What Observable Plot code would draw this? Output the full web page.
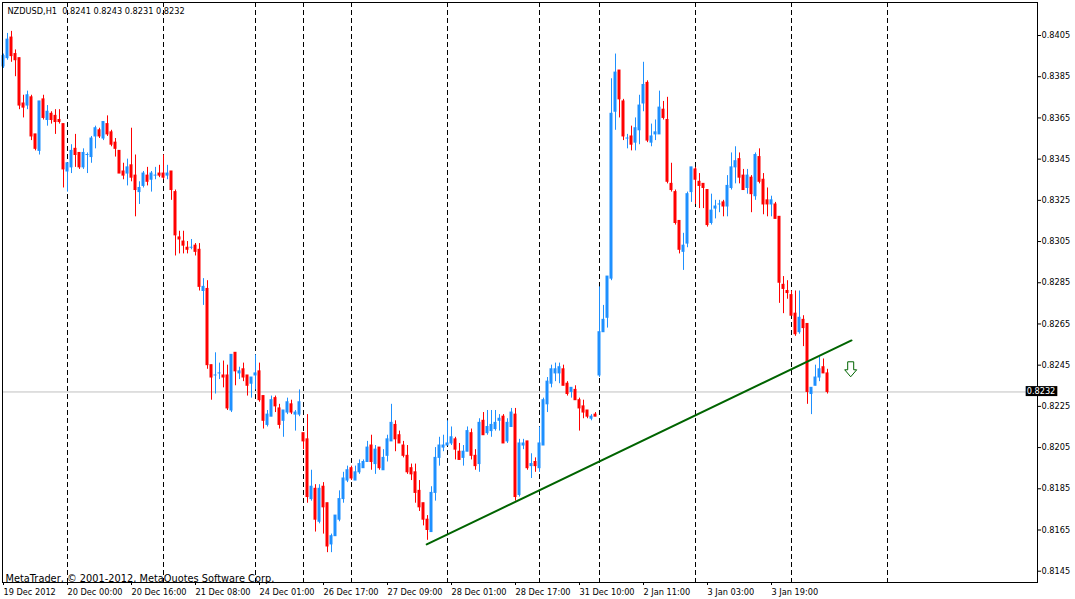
<!DOCTYPE html>
<html>
<head>
<meta charset="utf-8">
<script src="https://cdn.jsdelivr.net/npm/d3@7"></script>
<script src="https://cdn.jsdelivr.net/npm/@observablehq/plot@0.6"></script>
<style>
  html, body { margin: 0; padding: 0; background: #fff; }
  svg { display: block; }
  svg text { white-space: pre; }
</style>
</head>
<body>
<div id="chart"></div>
<script>
// ---- Data (NZDUSD H1) ----
const symbol = "NZDUSD";
const period = "H1";

const open = [
0.8390,0.8394,0.8404,0.8396,0.8394,0.8372,0.8371,0.8375,0.8357,0.8349,
0.8374,0.8364,0.8367,0.8366,0.8364,0.8362,0.8339,0.8341,0.8350,0.8348,
0.8341,0.8347,0.8346,0.8356,0.8359,0.8355,0.8362,0.8358,0.8353,0.8349,
0.8339,0.8338,0.8342,0.8337,0.8329,0.8332,0.8337,0.8335,0.8337,0.8338,
0.8338,0.8337,0.8339,0.8329,0.8307,0.8305,0.8302,0.8302,0.8303,0.8301,
0.8281,0.8282,0.8245,0.8240,0.8241,0.8240,0.8240,0.8223,0.8251,0.8241,
0.8243,0.8240,0.8236,0.8240,0.8242,0.8230,0.8216,0.8220,0.8229,0.8224,
0.8218,0.8222,0.8226,0.8221,0.8221,0.8212,0.8209,0.8180,0.8185,0.8169,
0.8186,0.8178,0.8158,0.8162,0.8170,0.8180,0.8189,0.8195,0.8189,0.8193,
0.8195,0.8198,0.8206,0.8197,0.8205,0.8194,0.8201,0.8208,0.8216,0.8211,
0.8206,0.8201,0.8195,0.8193,0.8184,0.8178,0.8170,0.8164,0.8183,0.8200,
0.8205,0.8206,0.8207,0.8209,0.8203,0.8200,0.8203,0.8212,0.8201,0.8197,
0.8218,0.8212,0.8213,0.8214,0.8218,0.8220,0.8208,0.8215,0.8221,0.8182,
0.8206,0.8208,0.8196,0.8198,0.8195,0.8206,0.8226,0.8236,0.8241,0.8241,
0.8243,0.8236,0.8232,0.8233,0.8228,0.8225,0.8223,0.8219,0.8221,0.8240,
0.8261,0.8268,0.8287,0.8368,0.8388,0.8373,0.8355,0.8356,0.8353,0.8359,
0.8372,0.8382,0.8353,0.8357,0.8357,0.8369,0.8364,0.8333,0.8329,0.8315,
0.8300,0.8304,0.8329,0.8340,0.8334,0.8333,0.8330,0.8314,0.8321,0.8323,
0.8324,0.8322,0.8331,0.8341,0.8345,0.8337,0.8331,0.8336,0.8327,0.8346,
0.8335,0.8325,0.8323,0.8323,0.8317,0.8284,0.8281,0.8279,0.8270,0.8261,
0.8267,0.8265,0.8231,0.8235,0.8239,0.8244,0.8241
];
const high = [
0.8396,0.8406,0.8407,0.8398,0.8394,0.8376,0.8378,0.8376,0.8357,0.8373,
0.8376,0.8371,0.8368,0.8369,0.8369,0.8362,0.8343,0.8352,0.8357,0.8348,
0.8350,0.8348,0.8356,0.8361,0.8360,0.8363,0.8366,0.8359,0.8355,0.8349,
0.8343,0.8345,0.8360,0.8347,0.8334,0.8339,0.8341,0.8339,0.8341,0.8342,
0.8347,0.8342,0.8339,0.8330,0.8310,0.8310,0.8305,0.8306,0.8304,0.8304,
0.8287,0.8286,0.8245,0.8251,0.8246,0.8247,0.8245,0.8250,0.8251,0.8244,
0.8246,0.8240,0.8239,0.8250,0.8246,0.8230,0.8223,0.8230,0.8230,0.8226,
0.8223,0.8229,0.8228,0.8223,0.8233,0.8212,0.8221,0.8194,0.8187,0.8187,
0.8188,0.8178,0.8163,0.8172,0.8184,0.8193,0.8196,0.8196,0.8196,0.8199,
0.8199,0.8208,0.8211,0.8206,0.8205,0.8204,0.8211,0.8226,0.8218,0.8213,
0.8208,0.8206,0.8197,0.8197,0.8189,0.8178,0.8172,0.8186,0.8205,0.8210,
0.8211,0.8218,0.8215,0.8210,0.8207,0.8206,0.8215,0.8214,0.8204,0.8219,
0.8222,0.8223,0.8223,0.8223,0.8221,0.8221,0.8219,0.8224,0.8224,0.8209,
0.8209,0.8208,0.8202,0.8200,0.8215,0.8229,0.8239,0.8245,0.8246,0.8246,
0.8245,0.8237,0.8234,0.8235,0.8229,0.8228,0.8223,0.8221,0.8222,0.8283,
0.8274,0.8288,0.8384,0.8396,0.8388,0.8374,0.8357,0.8361,0.8365,0.8376,
0.8392,0.8383,0.8362,0.8364,0.8378,0.8373,0.8375,0.8343,0.8330,0.8315,
0.8309,0.8329,0.8341,0.8341,0.8338,0.8333,0.8330,0.8328,0.8325,0.8325,
0.8325,0.8337,0.8348,0.8351,0.8348,0.8340,0.8340,0.8337,0.8348,0.8350,
0.8338,0.8331,0.8327,0.8324,0.8317,0.8288,0.8286,0.8281,0.8281,0.8281,
0.8269,0.8265,0.8234,0.8245,0.8249,0.8248,0.8243
];
const low = [
0.8389,0.8393,0.8392,0.8385,0.8369,0.8365,0.8369,0.8354,0.8349,0.8347,
0.8364,0.8361,0.8362,0.8357,0.8362,0.8331,0.8329,0.8338,0.8341,0.8340,
0.8340,0.8338,0.8343,0.8350,0.8355,0.8354,0.8356,0.8351,0.8346,0.8338,
0.8335,0.8332,0.8334,0.8317,0.8323,0.8331,0.8332,0.8329,0.8335,0.8336,
0.8335,0.8335,0.8325,0.8298,0.8299,0.8299,0.8299,0.8301,0.8298,0.8281,
0.8274,0.8243,0.8228,0.8231,0.8238,0.8234,0.8223,0.8222,0.8235,0.8238,
0.8237,0.8230,0.8229,0.8233,0.8227,0.8214,0.8215,0.8220,0.8222,0.8214,
0.8210,0.8221,0.8221,0.8213,0.8220,0.8204,0.8178,0.8179,0.8164,0.8168,
0.8163,0.8154,0.8154,0.8162,0.8169,0.8178,0.8188,0.8189,0.8189,0.8192,
0.8195,0.8198,0.8194,0.8192,0.8194,0.8194,0.8198,0.8208,0.8203,0.8207,
0.8200,0.8192,0.8189,0.8178,0.8174,0.8167,0.8160,0.8164,0.8179,0.8196,
0.8203,0.8206,0.8206,0.8199,0.8199,0.8196,0.8203,0.8199,0.8194,0.8193,
0.8211,0.8211,0.8210,0.8213,0.8213,0.8207,0.8207,0.8215,0.8179,0.8181,
0.8204,0.8194,0.8190,0.8193,0.8193,0.8206,0.8222,0.8234,0.8237,0.8236,
0.8235,0.8230,0.8229,0.8228,0.8213,0.8219,0.8219,0.8218,0.8220,0.8239,
0.8261,0.8263,0.8286,0.8359,0.8365,0.8354,0.8350,0.8349,0.8349,0.8352,
0.8368,0.8353,0.8351,0.8354,0.8357,0.8364,0.8333,0.8329,0.8313,0.8299,
0.8291,0.8302,0.8324,0.8323,0.8321,0.8321,0.8312,0.8313,0.8316,0.8319,
0.8317,0.8317,0.8330,0.8333,0.8333,0.8330,0.8328,0.8319,0.8325,0.8333,
0.8318,0.8317,0.8317,0.8316,0.8275,0.8270,0.8277,0.8269,0.8259,0.8260,
0.8254,0.8226,0.8221,0.8235,0.8237,0.8241,0.8231
];
const close = [
0.8395,0.8403,0.8395,0.8393,0.8371,0.8370,0.8376,0.8356,0.8350,0.8373,
0.8365,0.8368,0.8364,0.8363,0.8363,0.8340,0.8343,0.8349,0.8347,0.8341,
0.8348,0.8347,0.8355,0.8360,0.8356,0.8363,0.8357,0.8352,0.8350,0.8338,
0.8337,0.8341,0.8336,0.8330,0.8331,0.8338,0.8334,0.8338,0.8337,0.8337,
0.8336,0.8338,0.8330,0.8308,0.8306,0.8303,0.8301,0.8302,0.8300,0.8283,
0.8283,0.8245,0.8239,0.8240,0.8241,0.8239,0.8224,0.8250,0.8242,0.8242,
0.8239,0.8235,0.8239,0.8241,0.8228,0.8218,0.8221,0.8228,0.8225,0.8216,
0.8223,0.8227,0.8222,0.8222,0.8227,0.8208,0.8181,0.8186,0.8170,0.8185,
0.8176,0.8157,0.8162,0.8172,0.8180,0.8190,0.8194,0.8190,0.8193,0.8197,
0.8198,0.8205,0.8198,0.8204,0.8195,0.8200,0.8209,0.8217,0.8209,0.8207,
0.8201,0.8193,0.8192,0.8183,0.8176,0.8170,0.8165,0.8183,0.8200,0.8206,
0.8206,0.8207,0.8210,0.8204,0.8199,0.8203,0.8213,0.8201,0.8196,0.8217,
0.8211,0.8215,0.8216,0.8217,0.8219,0.8207,0.8217,0.8222,0.8181,0.8207,
0.8207,0.8195,0.8197,0.8196,0.8207,0.8228,0.8237,0.8243,0.8243,0.8244,
0.8235,0.8231,0.8234,0.8228,0.8224,0.8222,0.8220,0.8220,0.8220,0.8261,
0.8267,0.8288,0.8367,0.8387,0.8374,0.8356,0.8355,0.8352,0.8360,0.8371,
0.8381,0.8354,0.8356,0.8358,0.8370,0.8365,0.8334,0.8330,0.8314,0.8301,
0.8303,0.8328,0.8341,0.8335,0.8332,0.8331,0.8313,0.8320,0.8322,0.8323,
0.8322,0.8332,0.8341,0.8344,0.8336,0.8330,0.8337,0.8328,0.8347,0.8334,
0.8323,0.8323,0.8325,0.8316,0.8285,0.8282,0.8280,0.8269,0.8260,0.8268,
0.8263,0.8232,0.8234,0.8239,0.8243,0.8241,0.8232
];

// time axis: bar indices of labelled ticks and their labels
const tickBars = [0, 16, 32, 48, 64, 80, 96, 112, 128, 144, 160, 176, 192];
const tickLabels = ["19 Dec 2012", "20 Dec 00:00", "20 Dec 16:00", "21 Dec 08:00", "24 Dec 01:00",
  "26 Dec 17:00", "27 Dec 09:00", "28 Dec 01:00", "28 Dec 17:00", "31 Dec 10:00",
  "2 Jan 11:00", "3 Jan 03:00", "3 Jan 19:00"];
// day separators (bar indices)
const separatorBars = [16, 40, 63, 75, 87, 111, 134, 149, 173, 197, 221];
// price axis ticks
const yTicks = [0.8145, 0.8165, 0.8185, 0.8205, 0.8225, 0.8245, 0.8265, 0.8285,
  0.8305, 0.8325, 0.8345, 0.8365, 0.8385, 0.8405];
// trend line anchors (bar, price)
const trendBars = [105.8, 212];
const trendPrices = [0.8158, 0.8257];
// sell arrow (bar, price)
const arrowBars = [211.8];
const arrowPrices = [0.8243];

const copyrightText = "MetaTrader, \u00A9 2001-2012, MetaQuotes Software Corp.";

// ---- Build ----
const last = open.length - 1;
const lastPrice = close[last];
const lastLabel = lastPrice.toFixed(4);
const headerText = `${symbol},${period}  ${open[last].toFixed(4)} ${high[last].toFixed(4)} ${low[last].toFixed(4)} ${close[last].toFixed(4)}`;

const blue = "#1e90ff", red = "#ff0000", green = "#006400";
const candles = open.map((o, i) => ({bar: i, open: o, high: high[i], low: low[i], close: close[i]}));
const candleColor = d => d.close >= d.open ? blue : red;
const trend = trendBars.map((b, i) => ({bar: b, price: trendPrices[i]}));
const arrows = arrowBars.map((b, i) => ({bar: b, price: arrowPrices[i]}));

// hollow down-arrow symbol (shape only; placed by the dot mark)
const downArrow = {
  draw(context, size) {
    const r = Math.sqrt(size / Math.PI);   // r = 6 -> 12px wide, 15px tall
    const s = r / 6;
    context.moveTo(-3 * s, -7.5 * s);
    context.lineTo(3 * s, -7.5 * s);
    context.lineTo(3 * s, 0.5 * s);
    context.lineTo(6 * s, 0.5 * s);
    context.lineTo(0, 7.5 * s);
    context.lineTo(-6 * s, 0.5 * s);
    context.lineTo(-3 * s, 0.5 * s);
    context.closePath();
  }
};

const chart = Plot.plot({
  width: 1075,
  height: 599,
  marginTop: 2,
  marginRight: 38,
  marginBottom: 17,
  marginLeft: 2,
  style: {fontFamily: "Tahoma, 'DejaVu Sans', sans-serif", fontSize: "8.2px", color: "black", background: "white", overflow: "visible"},
  x: {domain: [-0.25, 258.5], label: null},
  y: {domain: [0.813952, 0.842102], label: null},
  marks: [
    Plot.ruleX(separatorBars, {stroke: "black", strokeDasharray: "5,3"}),
    Plot.ruleY([lastPrice], {stroke: "#c0c0c0"}),
    Plot.ruleX(candles, {x: "bar", y1: "low", y2: "high", stroke: candleColor}),
    Plot.rect(candles, {x1: d => d.bar - 0.375, x2: d => d.bar + 0.375, y1: "open", y2: "close", fill: candleColor, insetTop: -0.5, insetBottom: -0.5}),
    Plot.line(trend, {x: "bar", y: "price", stroke: green, strokeWidth: 2}),
    Plot.dot(arrows, {x: "bar", y: "price", symbol: downArrow, r: 6, stroke: green, strokeWidth: 1, fill: "white"}),
    Plot.frame({stroke: "black"}),
    Plot.axisY(yTicks, {anchor: "right", label: null, tickSize: 3, tickPadding: 1, tickFormat: d => d.toFixed(4)}),
    Plot.axisX(tickBars, {anchor: "bottom", label: null, tickSize: 3, tickPadding: 4, textAnchor: "start", tickFormat: d => tickLabels[tickBars.indexOf(d)]}),
    Plot.text([headerText], {text: d => d, frameAnchor: "top-left", dx: 5, dy: 6, lineAnchor: "top", textAnchor: "start"}),
    Plot.text([copyrightText], {text: d => d, frameAnchor: "bottom-left", dx: 3, dy: -1, lineAnchor: "bottom", textAnchor: "start", fontSize: 9.8})
  ]
});

document.getElementById("chart").append(chart);

// current-price label on the price axis: white text on a black box
const svg = d3.select(chart);
const yPos = chart.scale("y").apply(lastPrice);
const xPos = 1075 - 38 + 3;
const label = svg.append("g").attr("class", "last-price");
const box = label.append("rect").attr("fill", "black");
const txt = label.append("text")
  .attr("x", xPos + 1)
  .attr("y", yPos)
  .attr("dy", "0.32em")
  .attr("fill", "white")
  .attr("font-size", "8.2px")
  .text(lastLabel);
const bb = txt.node().getBBox();
box.attr("x", bb.x - 1).attr("y", bb.y).attr("width", bb.width + 3).attr("height", bb.height);
</script>
</body>
</html>
